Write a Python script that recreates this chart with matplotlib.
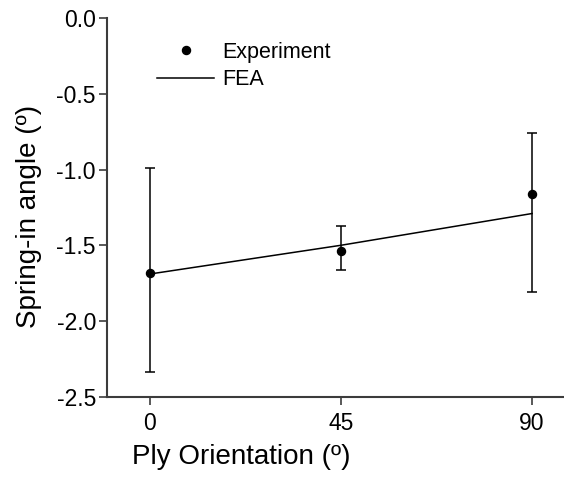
import matplotlib
matplotlib.use("Agg")
import matplotlib.pyplot as plt
from matplotlib.lines import Line2D

plt.rcParams['font.family'] = ['Liberation Sans', 'DejaVu Sans']

# Ply orientations (degrees)
orientation = [0, 45, 90]
# Measured spring-in angle with lower / upper spread
experiment = [-1.68, -1.54, -1.16]
err_lower = [0.66, 0.12, 0.65]
err_upper = [0.69, 0.17, 0.40]
# Finite element prediction
fea = [-1.69, -1.50, -1.29]

xticks = [0, 45, 90]
yticks = [-2.5, -2.0, -1.5, -1.0, -0.5, 0.0]

W, H = 564, 479
fig = plt.figure(figsize=(W / 100, H / 100), dpi=100)
ax = fig.add_axes([107 / W, 1 - 396.7 / H, (W - 107) / W, (396.7 - 18.2) / H])

spine_col = '#3c3c3c'
ax.plot(orientation, fea, color='black', lw=1.1, zorder=2)
ax.errorbar(orientation, experiment, yerr=[err_lower, err_upper], fmt='o',
            color='black', ms=5.8, ecolor='black', elinewidth=1.1,
            capsize=3.3, capthick=1.1, zorder=3)

ax.set_xlim(-10, 97.5)
ax.set_ylim(-2.5, 0.0)
ax.set_xticks(xticks)
ax.set_yticks(yticks)
ax.set_yticklabels([f"{v:.1f}" for v in yticks])

for s in ['top', 'right']:
    ax.spines[s].set_visible(False)
for s in ['left', 'bottom']:
    ax.spines[s].set_color(spine_col)
    ax.spines[s].set_linewidth(1.5)

ax.tick_params(axis='both', colors=spine_col, width=1.2, length=6,
               labelsize=16.5, labelcolor='black')
ax.tick_params(axis='x', pad=5)
ax.tick_params(axis='y', pad=2)

ax.set_xlabel('Ply Orientation (º)', fontsize=20)
ax.set_ylabel('Spring-in angle (º)', fontsize=20)
ax.xaxis.set_label_coords((241 - 107) / (W - 107), -(457 - 396.7) / (396.7 - 18.2), transform=ax.transAxes)
ax.xaxis.label.set_va('center')
ax.yaxis.set_label_coords(-(107 - 29) / (W - 107), (396.7 - 216) / (396.7 - 18.2), transform=ax.transAxes)
ax.yaxis.label.set_va('center')

legend_handles = [
    Line2D([], [], linestyle='none', marker='o', color='black', ms=5.8),
    Line2D([], [], color='black', lw=1.1),
]
ax.legend(legend_handles, ['Experiment', 'FEA'],
          loc='upper left',
          bbox_to_anchor=((157 - 107) / (W - 107), 1 - (42 - 18.2) / (396.7 - 18.2)),
          frameon=False, fontsize=15.5, handlelength=2.65, handletextpad=0.36,
          labelspacing=0.3, borderaxespad=0, borderpad=0)

fig.savefig('out.png', dpi=100)
